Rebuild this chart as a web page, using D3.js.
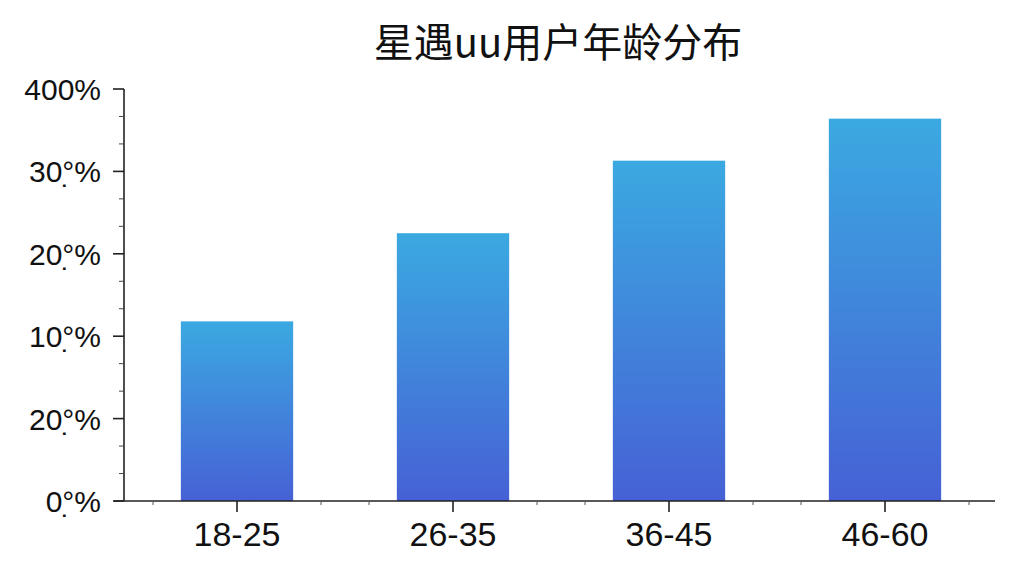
<!DOCTYPE html>
<html>
<head>
<meta charset="utf-8">
<script src="https://cdn.jsdelivr.net/npm/d3@7"></script>
<style>
  html, body { margin: 0; padding: 0; background: #fff; }
  svg { display: block; font-family: "Liberation Sans", Arial, "Noto Sans CJK SC", sans-serif; }
</style>
</head>
<body>
<div id="chart"></div>
<script>
// Data
const title = '星遇uu用户年龄分布';
const ageGroups = ['18-25', '26-35', '36-45', '46-60'];
const shares = [21.8, 32.5, 41.3, 46.4];
const yTickValues = [0, 10, 20, 30, 40, 50];
// the labels as printed on the reference (a small ring over a dot after the number)
const yTickLabels = ['0\u00B0\u0323%', '20\u00B0\u0323%', '10\u00B0\u0323%',
                     '20\u00B0\u0323%', '30\u00B0\u0323%', '400%'];

const width = 1024;
const height = 576;
const margin = {top: 89, right: 29, bottom: 75, left: 124};

const svg = d3.select('#chart')
  .append('svg')
    .attr('width', width)
    .attr('height', height);

const defs = svg.append('defs');
const grad = defs.append('linearGradient')
    .attr('id', 'bar-grad')
    .attr('x1', 0).attr('y1', 0)
    .attr('x2', 0).attr('y2', 1);
grad.append('stop').attr('offset', '0%').attr('stop-color', '#3ba9e1');
grad.append('stop').attr('offset', '100%').attr('stop-color', '#4661d5');

const x = d3.scaleBand()
    .domain(ageGroups)
    .range([129, 993])
    .paddingInner(0.48)
    .paddingOuter(0.24);

const y = d3.scaleLinear()
    .domain([0, 50])
    .range([height - margin.bottom, margin.top]);

// title
svg.append('text')
    .attr('x', 558)
    .attr('y', 57)
    .attr('text-anchor', 'middle')
    .attr('font-family', '"Noto Sans CJK SC", sans-serif')
    .attr('font-size', 40)
    .attr('fill', '#111')
    .text(title);

// bars
svg.append('g')
  .selectAll('rect')
  .data(shares)
  .join('rect')
    .attr('x', (d, i) => x(ageGroups[i]))
    .attr('y', d => y(d))
    .attr('width', x.bandwidth())
    .attr('height', d => y(0) - y(d))
    .attr('fill', 'url(#bar-grad)');

// y axis
const yAxis = svg.append('g')
    .attr('transform', `translate(${margin.left},0)`);

yAxis.append('line')
    .attr('y1', y(50)).attr('y2', y(0))
    .attr('stroke', '#222').attr('stroke-width', 1.6);

const yMinor = [];
yTickValues.slice(0, -1).forEach(v => { yMinor.push(v + 10 / 3, v + 20 / 3); });

yAxis.selectAll('.minor')
  .data(yMinor)
  .join('line')
    .attr('class', 'minor')
    .attr('x1', -5).attr('x2', 0)
    .attr('y1', d => y(d)).attr('y2', d => y(d))
    .attr('stroke', '#444').attr('stroke-width', 1);

yAxis.selectAll('.major')
  .data(yTickValues)
  .join('line')
    .attr('class', 'major')
    .attr('x1', -11).attr('x2', 0)
    .attr('y1', d => y(d)).attr('y2', d => y(d))
    .attr('stroke', '#222').attr('stroke-width', 1.6);

yAxis.selectAll('.ylabel')
  .data(yTickValues)
  .join('text')
    .attr('class', 'ylabel')
    .attr('x', -23)
    .attr('y', d => y(d) + 11)
    .attr('text-anchor', 'end')
    .attr('font-size', 30)
    .attr('fill', '#111')
    .text((d, i) => yTickLabels[i]);

// x axis
const xAxis = svg.append('g')
    .attr('transform', `translate(0,${y(0)})`);

xAxis.append('line')
    .attr('x1', 114).attr('x2', 995)
    .attr('stroke', '#222').attr('stroke-width', 1.6);

const boundaries = d3.range(ageGroups.length + 1).map(i => x.range()[0] + i * x.step());
const xMinor = [];
boundaries.forEach((b, i) => {
  if (i > 0) xMinor.push(b - 24);
  if (i < boundaries.length - 1) xMinor.push(b + 24);
});

xAxis.selectAll('.minor')
  .data(xMinor)
  .join('line')
    .attr('class', 'minor')
    .attr('x1', d => d).attr('x2', d => d)
    .attr('y1', 0).attr('y2', 4)
    .attr('stroke', '#555').attr('stroke-width', 1);

xAxis.selectAll('.major')
  .data(ageGroups)
  .join('line')
    .attr('class', 'major')
    .attr('x1', d => x(d) + x.bandwidth() / 2)
    .attr('x2', d => x(d) + x.bandwidth() / 2)
    .attr('y1', 0).attr('y2', 11)
    .attr('stroke', '#222').attr('stroke-width', 1.6);

xAxis.selectAll('.xlabel')
  .data(ageGroups)
  .join('text')
    .attr('class', 'xlabel')
    .attr('x', d => x(d) + x.bandwidth() / 2)
    .attr('y', 45)
    .attr('text-anchor', 'middle')
    .attr('font-size', 34)
    .attr('fill', '#111')
    .text(d => d);
</script>
</body>
</html>
